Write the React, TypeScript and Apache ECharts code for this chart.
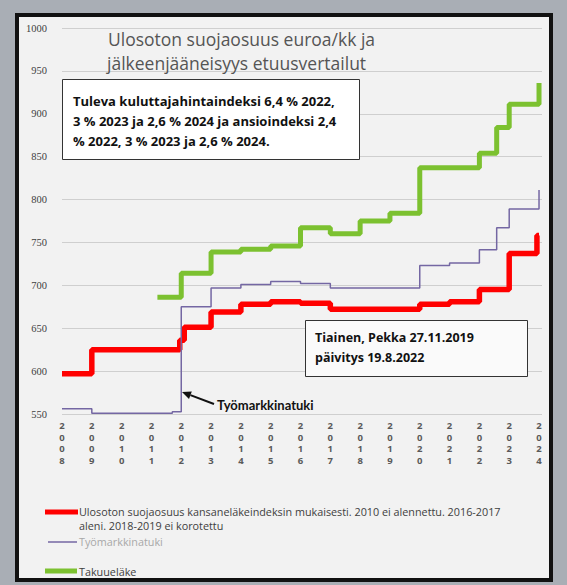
import React, { useEffect, useRef } from "react";
import * as echarts from "echarts";

// ---- Data ----
const yearTicks: number[] = [
  2008, 2009, 2010, 2011, 2012, 2013, 2014, 2015, 2016, 2017, 2018, 2019, 2020,
  2021, 2022, 2023, 2024,
];
const yTicks: number[] = [550, 600, 650, 700, 750, 800, 850, 900, 950, 1000];

// [time (year), euro/month]; each value holds until the next point
const suojaosuus: [number, number][] = [
  [2008, 597], [2009, 625], [2011.95, 636], [2012.1, 651], [2013, 669],
  [2014, 678], [2015, 681], [2016, 679], [2017, 672], [2020, 678],
  [2021, 681], [2022, 695], [2023, 737], [2023.93, 758], [2024, 758],
];
const tyomarkkinatuki: [number, number][] = [
  [2008, 556], [2009, 551], [2011.7, 552.5], [2012, 675], [2013, 697],
  [2014, 701], [2015, 704.5], [2016, 702], [2017, 697], [2020, 723],
  [2021, 726], [2022, 741.5], [2022.58, 767], [2023, 789], [2024, 811],
];
const takuuelake: [number, number][] = [
  [2011.2, 686], [2012, 714], [2013, 739], [2014, 742], [2015, 746],
  [2016, 767], [2017, 760], [2018, 775], [2019, 784], [2020, 837],
  [2022, 854], [2022.58, 884], [2023, 911], [2024, 936],
];

const titleLines: string[] = [
  "Ulosoton suojaosuus euroa/kk ja",
  "jälkeenjääneisyys etuusvertailut",
];
const noteLines: string[] = [
  "Tuleva kuluttajahintaindeksi 6,4 % 2022,",
  "3 % 2023 ja 2,6 % 2024 ja ansioindeksi 2,4",
  "% 2022, 3 % 2023 ja 2,6 % 2024.",
];
const authorLines: string[] = ["Tiainen, Pekka 27.11.2019", "päivitys 19.8.2022"];
const legendRed: string[] = [
  "Ulosoton suojaosuus kansaneläkeindeksin mukaisesti. 2010 ei alennettu. 2016-2017",
  "aleni. 2018-2019 ei korotettu",
];
const legendPurple = "Työmarkkinatuki";
const legendGreen = "Takuueläke";
const arrowLabel = "Työmarkkinatuki";

const RED = "#ff0000";
const PURPLE = "#7467a3";
const GREEN = "#7cc130";

function txt(text: string, x: number, y: number, font: string, fill: string, z = 20) {
  return {
    type: "text",
    z,
    style: {
      text,
      x,
      y,
      font,
      fill,
      textAlign: "left",
      textVerticalAlign: "middle",
      align: "left",
      verticalAlign: "middle",
    },
  };
}

export default function App() {
  const ref = useRef<HTMLDivElement>(null);

  useEffect(() => {
    if (!ref.current) return;
    const chart = echarts.init(ref.current, undefined, { renderer: "svg" });

    // arrow geometry
    const sx = 214, sy = 404, tx = 182, ty = 392;
    const dx = tx - sx, dy = ty - sy;
    const len = Math.sqrt(dx * dx + dy * dy);
    const ux = dx / len, uy = dy / len;
    const bx = tx - 9 * ux, by = ty - 9 * uy;
    const nx = -uy, ny = ux;

    const graphics: any[] = [
      // frame
      { type: "rect", z: -10, silent: true, shape: { x: 0, y: 0, width: 567, height: 585 }, style: { fill: "#a9aeb5" } },
      { type: "rect", z: -9, silent: true, shape: { x: 17, y: 15, width: 534, height: 565 }, style: { fill: "#f2f2f2", stroke: "#111", lineWidth: 4 } },
      // title
      txt(titleLines[0], 108, 39, "17.5px 'Open Sans'", "#555555"),
      txt(titleLines[1], 107, 63, "17.5px 'Open Sans'", "#555555"),
      // note box
      { type: "rect", z: 15, shape: { x: 62.5, y: 79.5, width: 297, height: 80 }, style: { fill: "#ffffff", stroke: "#333", lineWidth: 1 } },
      ...noteLines.map((l, i) => txt(l, 73, 101 + i * 20, "bold 13px 'Open Sans'", "#111")),
      // author box
      { type: "rect", z: 15, shape: { x: 305.5, y: 320.5, width: 222, height: 56 }, style: { fill: "#fafafa", stroke: "#333", lineWidth: 1 } },
      ...authorLines.map((l, i) => txt(l, 315, 337 + i * 20, "bold 12.5px 'Open Sans'", "#111")),
      // arrow annotation
      { type: "line", z: 20, shape: { x1: sx, y1: sy, x2: bx, y2: by }, style: { stroke: "#111", lineWidth: 2 } },
      { type: "polygon", z: 20, shape: { points: [[tx, ty], [bx + 4 * nx, by + 4 * ny], [bx - 4 * nx, by - 4 * ny]] }, style: { fill: "#111" } },
      txt(arrowLabel, 217, 405, "bold 13px Lato", "#111"),
      // legend
      { type: "line", z: 20, shape: { x1: 45, y1: 512, x2: 78, y2: 512 }, style: { stroke: RED, lineWidth: 5 } },
      txt(legendRed[0], 79, 511, "10.8px 'Open Sans'", "#404040"),
      txt(legendRed[1], 79, 525, "10.8px 'Open Sans'", "#404040"),
      { type: "line", z: 20, shape: { x1: 48, y1: 542, x2: 77, y2: 542 }, style: { stroke: PURPLE, lineWidth: 1.5 } },
      txt(legendPurple, 79, 541, "10.8px 'Open Sans'", "#a8a8a8"),
      { type: "line", z: 20, shape: { x1: 45, y1: 571, x2: 77, y2: 571 }, style: { stroke: GREEN, lineWidth: 5 } },
      txt(legendGreen, 79, 571, "10.8px 'Open Sans'", "#404040"),
    ];

    chart.setOption({
      animation: false,
      backgroundColor: "#f2f2f2",
      grid: { left: 62, right: 25, top: 28, bottom: 171, containLabel: false },
      xAxis: {
        type: "value",
        min: yearTicks[0],
        max: yearTicks[yearTicks.length - 1] + 0.1,
        interval: 1,
        axisLine: { show: false },
        axisTick: { show: false },
        splitLine: { show: false },
        axisLabel: {
          margin: 6,
          fontSize: 9.5,
          lineHeight: 11.5,
          fontFamily: "Open Sans",
          fontWeight: "bold",
          color: "#5a5a5a",
          formatter: (v: number) => {
            const r = Math.round(v);
            if (Math.abs(v - r) > 0.01 || !yearTicks.includes(r)) return "";
            return String(r).split("").join("\n");
          },
        },
      },
      yAxis: {
        type: "value",
        min: yTicks[0],
        max: yTicks[yTicks.length - 1],
        interval: 50,
        axisLine: { show: false },
        axisTick: { show: false },
        axisLabel: {
          margin: 15,
          fontSize: 10.5,
          fontFamily: "Liberation Serif",
          color: "#404040",
          formatter: (v: number) => String(v),
        },
        splitLine: { lineStyle: { color: "#cfcfcf", width: 1 } },
      },
      series: [
        {
          type: "line",
          name: "Takuueläke",
          step: "end",
          data: takuuelake,
          showSymbol: false,
          lineStyle: { color: GREEN, width: 5 },
          itemStyle: { color: GREEN },
        },
        {
          type: "line",
          name: "Ulosoton suojaosuus",
          step: "end",
          data: suojaosuus,
          showSymbol: false,
          lineStyle: { color: RED, width: 5.5 },
          itemStyle: { color: RED },
        },
        {
          type: "line",
          name: "Työmarkkinatuki",
          step: "end",
          data: tyomarkkinatuki,
          showSymbol: false,
          lineStyle: { color: PURPLE, width: 1.5 },
          itemStyle: { color: PURPLE },
        },
      ],
      graphic: graphics,
    });

    return () => chart.dispose();
  }, []);

  return (
    <div
      ref={ref}
      style={{ position: "fixed", left: 0, top: 0, width: 567, height: 585 }}
    />
  );
}
